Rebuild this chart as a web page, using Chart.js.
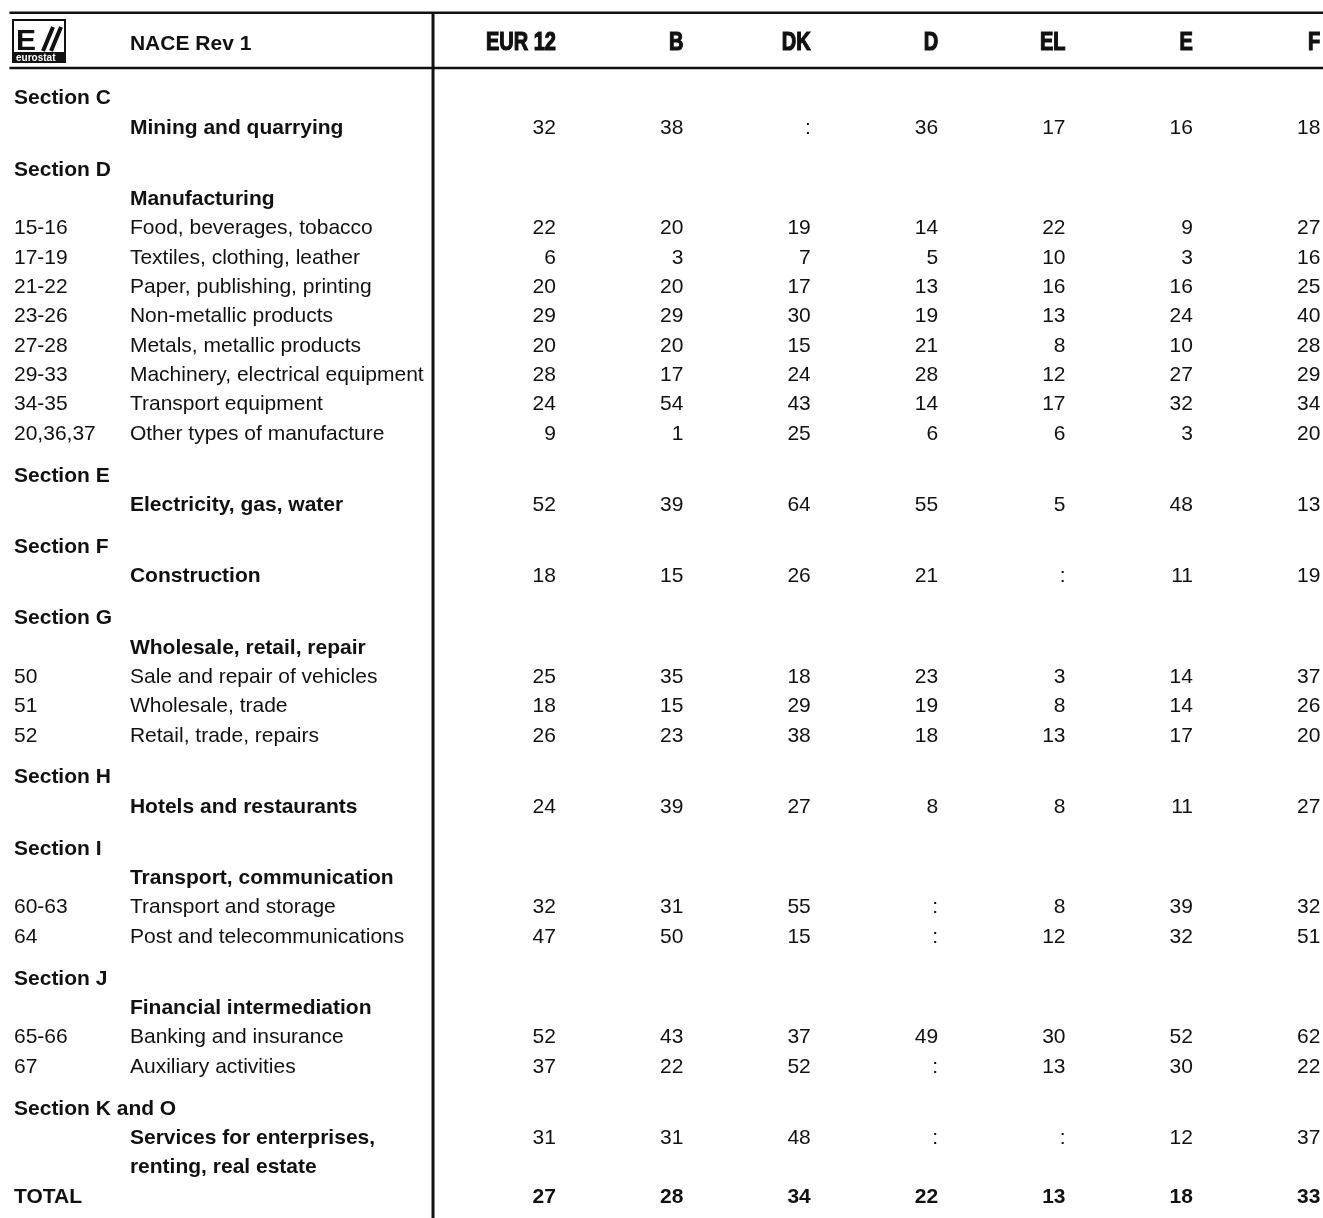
<!DOCTYPE html>
<html>
<head>
<meta charset="utf-8">
<script src="https://cdn.jsdelivr.net/npm/chart.js@4.4.0/dist/chart.umd.min.js"></script>
<style>
html, body { margin: 0; padding: 0; background: #fff; }
#wrap { width: 1323px; height: 1218px; }
</style>
</head>
<body>
<div id="wrap"><canvas id="table"></canvas></div>
<script>
// column headers
const countries = ["EUR 12", "B", "DK", "D", "EL", "E", "F"];

// table rows (sec = section line, head = bold title, headv = bold title with values,
// item = detail line, cont = continued title, total = total line)
const rowCodes = ["Section C", "", "Section D", "", "15-16", "17-19", "21-22", "23-26", "27-28", "29-33", "34-35", "20,36,37",
    "Section E", "", "Section F", "", "Section G", "", "50", "51", "52", "Section H", "", "Section I", "", "60-63", "64",
    "Section J", "", "65-66", "67", "Section K and O", "", "", "TOTAL"];
const rowNames = ["", "Mining and quarrying", "", "Manufacturing", "Food, beverages, tobacco", "Textiles, clothing, leather",
    "Paper, publishing, printing", "Non-metallic products", "Metals, metallic products", "Machinery, electrical equipment",
    "Transport equipment", "Other types of manufacture", "", "Electricity, gas, water", "", "Construction", "",
    "Wholesale, retail, repair", "Sale and repair of vehicles", "Wholesale, trade", "Retail, trade, repairs", "",
    "Hotels and restaurants", "", "Transport, communication", "Transport and storage", "Post and telecommunications", "",
    "Financial intermediation", "Banking and insurance", "Auxiliary activities", "", "Services for enterprises,",
    "renting, real estate", ""];
const rowKinds = ["sec", "headv", "sec", "head", "item", "item", "item", "item", "item", "item", "item", "item",
    "sec", "headv", "sec", "headv", "sec", "head", "item", "item", "item", "sec", "headv", "sec", "head", "item", "item",
    "sec", "head", "item", "item", "sec", "headv", "cont", "total"];

// values for the rows that carry numbers, in row order (null = not available ":")
const eur12 = [32, 22, 6, 20, 29, 20, 28, 24, 9, 52, 18, 25, 18, 26, 24, 32, 47, 52, 37, 31, 27];
const b     = [38, 20, 3, 20, 29, 20, 17, 54, 1, 39, 15, 35, 15, 23, 39, 31, 50, 43, 22, 31, 28];
const dk    = [null, 19, 7, 17, 30, 15, 24, 43, 25, 64, 26, 18, 29, 38, 27, 55, 15, 37, 52, 48, 34];
const d     = [36, 14, 5, 13, 19, 21, 28, 14, 6, 55, 21, 23, 19, 18, 8, null, null, 49, null, null, 22];
const el    = [17, 22, 10, 16, 13, 8, 12, 17, 6, 5, null, 3, 8, 13, 8, 8, 12, 30, 13, null, 13];
const e     = [16, 9, 3, 16, 24, 10, 27, 32, 3, 48, 11, 14, 14, 17, 11, 39, 32, 52, 30, 12, 18];
const f     = [18, 27, 16, 25, 40, 28, 29, 34, 20, 13, 19, 37, 26, 20, 27, 32, 51, 62, 22, 37, 33];

const series = [eur12, b, dk, d, el, e, f];

// row positions: one unit per line, a bit more before each section line
const rowY = [];
rowKinds.forEach(function (k, i) {
    if (i === 0) rowY.push(0);
    else rowY.push(rowY[i - 1] + (k === "sec" ? 1.43 : 1));
});
const dataRows = rowKinds.map(function (k, i) { return i; })
    .filter(function (i) { return ["headv", "item", "total"].indexOf(rowKinds[i]) >= 0; });

// layout in scale units (x: value column index, y: row units)
const layout = {
    codeX: -4.254, nameX: -3.344, ruleX: -0.965,
    headerY: -1.875, topRuleY: -2.87, headRuleY: -0.99, ruleStartX: -4.29
};

const FONT = "'Liberation Sans', Arial, Helvetica, sans-serif";
const SIZE = 21;

const tableText = {
    id: "tableText",
    afterDatasetsDraw: function (chart) {
        const ctx = chart.ctx;
        const xs = chart.scales.x;
        const ys = chart.scales.y;
        const px = function (v) { return xs.getPixelForValue(v); };
        const py = function (v) { return ys.getPixelForValue(v); };

        ctx.save();
        ctx.fillStyle = "#111";
        ctx.strokeStyle = "#111";

        // rules
        ctx.lineWidth = 2.5;
        ctx.beginPath();
        ctx.moveTo(px(layout.ruleStartX), py(layout.topRuleY));
        ctx.lineTo(chart.width, py(layout.topRuleY));
        ctx.moveTo(px(layout.ruleStartX), py(layout.headRuleY));
        ctx.lineTo(chart.width, py(layout.headRuleY));
        ctx.stroke();
        ctx.lineWidth = 3;
        ctx.beginPath();
        ctx.moveTo(px(layout.ruleX), py(layout.topRuleY));
        ctx.lineTo(px(layout.ruleX), chart.height);
        ctx.stroke();

        // logo
        const lx = px(layout.codeX) - 1, ly = py(layout.headerY) - 22;
        ctx.lineWidth = 2;
        ctx.strokeRect(lx, ly, 52, 42);
        ctx.font = "bold 30px " + FONT;
        ctx.textAlign = "left";
        ctx.textBaseline = "alphabetic";
        ctx.fillText("E", lx + 3, ly + 30);
        ctx.lineWidth = 4;
        ctx.beginPath();
        ctx.moveTo(lx + 30, ly + 31); ctx.lineTo(lx + 40, ly + 7);
        ctx.moveTo(lx + 38, ly + 31); ctx.lineTo(lx + 48, ly + 7);
        ctx.stroke();
        ctx.fillRect(lx, ly + 32, 52, 10);
        ctx.fillStyle = "#fff";
        ctx.font = "bold 10px " + FONT;
        ctx.fillText("eurostat", lx + 3, ly + 41);
        ctx.fillStyle = "#111";

        // header
        const hb = py(layout.headerY) + 8;
        ctx.font = "bold 21px " + FONT;
        ctx.textAlign = "left";
        ctx.fillText("NACE Rev 1", px(layout.nameX), hb);
        ctx.font = "bold 25px " + FONT;
        ctx.textAlign = "right";
        ctx.lineWidth = 1.2;
        countries.forEach(function (c, k) {
            // condensed, heavy header face
            ctx.save();
            ctx.translate(px(k), hb);
            ctx.scale(0.8, 1);
            ctx.fillText(c, 0, 0);
            ctx.strokeText(c, 0, 0);
            ctx.restore();
        });

        // row labels
        ctx.textAlign = "left";
        rowKinds.forEach(function (k, i) {
            const base = py(rowY[i]) + 7.5;
            const bold = k !== "item";
            ctx.font = (bold ? "bold " : "") + SIZE + "px " + FONT;
            if (rowCodes[i]) ctx.fillText(rowCodes[i], px(layout.codeX), base);
            if (rowNames[i]) ctx.fillText(rowNames[i], px(layout.nameX), base);
        });

        // values from the datasets
        ctx.textAlign = "right";
        chart.data.datasets.forEach(function (ds, di) {
            const meta = chart.getDatasetMeta(di);
            meta.data.forEach(function (pt, j) {
                const r = dataRows[j];
                const v = series[di][j];
                ctx.font = (rowKinds[r] === "total" ? "bold " : "") + SIZE + "px " + FONT;
                ctx.fillText(v === null ? ":" : String(v), pt.x, pt.y + 7.5);
            });
        });
        ctx.restore();
    }
};

new Chart(document.getElementById("table"), {
    type: "scatter",
    data: {
        datasets: series.map(function (vals, k) {
            return {
                label: countries[k],
                data: vals.map(function (v, j) { return { x: k, y: rowY[dataRows[j]] }; }),
                pointRadius: 0,
                pointHoverRadius: 0,
                showLine: false
            };
        })
    },
    options: {
        responsive: true,
        maintainAspectRatio: false,
        animation: false,
        layout: { padding: 0 },
        events: [],
        plugins: { legend: { display: false }, tooltip: { enabled: false } },
        scales: {
            x: { type: "linear", display: false, min: -4.364, max: 6.021 },
            y: { type: "linear", display: false, min: -3.307, max: 38.22, reverse: true }
        }
    },
    plugins: [tableText]
});
</script>
</body>
</html>
